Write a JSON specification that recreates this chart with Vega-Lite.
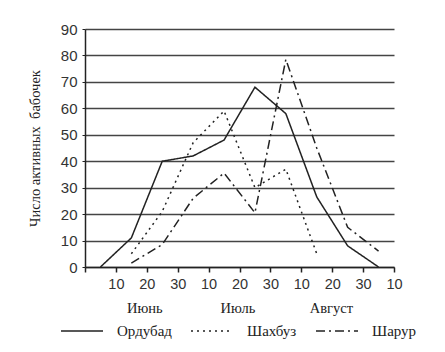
{
  "$schema": "https://vega.github.io/schema/vega-lite/v6.json",
  "width": 309,
  "height": 238,
  "autosize": {"type": "none"},
  "padding": {"left": 85, "top": 29, "right": 51, "bottom": 85},
  "background": "white",
  "config": {"view": {"stroke": null}},
  "data": {
    "values": [
      {"x": 0.5, "y": 0, "s": "Ордубад"},
      {"x": 1.5, "y": 11, "s": "Ордубад"},
      {"x": 2.5, "y": 40, "s": "Ордубад"},
      {"x": 3.5, "y": 42, "s": "Ордубад"},
      {"x": 4.5, "y": 48, "s": "Ордубад"},
      {"x": 5.5, "y": 68, "s": "Ордубад"},
      {"x": 6.5, "y": 58, "s": "Ордубад"},
      {"x": 7.5, "y": 26.5, "s": "Ордубад"},
      {"x": 8.5, "y": 8, "s": "Ордубад"},
      {"x": 9.5, "y": 0, "s": "Ордубад"},
      {"x": 1.5, "y": 5, "s": "Шахбуз"},
      {"x": 2.5, "y": 21, "s": "Шахбуз"},
      {"x": 3.5, "y": 47, "s": "Шахбуз"},
      {"x": 4.5, "y": 59, "s": "Шахбуз"},
      {"x": 5.5, "y": 30, "s": "Шахбуз"},
      {"x": 6.5, "y": 37, "s": "Шахбуз"},
      {"x": 7.5, "y": 5, "s": "Шахбуз"},
      {"x": 1.5, "y": 1.5, "s": "Шарур"},
      {"x": 2.5, "y": 8.5, "s": "Шарур"},
      {"x": 3.5, "y": 26, "s": "Шарур"},
      {"x": 4.5, "y": 35.5, "s": "Шарур"},
      {"x": 5.5, "y": 20.5, "s": "Шарур"},
      {"x": 6.5, "y": 78.5, "s": "Шарур"},
      {"x": 7.5, "y": 45, "s": "Шарур"},
      {"x": 8.5, "y": 15, "s": "Шарур"},
      {"x": 9.5, "y": 6, "s": "Шарур"}
    ]
  },
  "mark": {"type": "line", "strokeWidth": 1.5, "color": "#222"},
  "encoding": {
    "x": {
      "field": "x",
      "type": "quantitative",
      "scale": {"domain": [0, 10], "nice": false},
      "axis": {
        "values": [0, 1, 2, 3, 4, 5, 6, 7, 8, 9, 10],
        "labelExpr": "datum.value == 0 ? '' : ['10','20','30'][(datum.value - 1) % 3]",
        "grid": false,
        "tickSize": 5,
        "tickColor": "#222",
        "tickWidth": 1.5,
        "domainColor": "#222",
        "domainWidth": 1.5,
        "labelFont": "Liberation Sans",
        "labelFontSize": 14.5,
        "labelColor": "#333",
        "labelPadding": 5,
        "labelFlush": false,
        "title": "Июнь\u00a0\u00a0\u00a0\u00a0\u00a0\u00a0\u00a0\u00a0\u00a0\u00a0\u00a0\u00a0\u00a0\u00a0\u00a0\u00a0Июль\u00a0\u00a0\u00a0\u00a0\u00a0\u00a0\u00a0\u00a0\u00a0\u00a0\u00a0\u00a0\u00a0\u00a0\u00a0Август",
        "titleFont": "Liberation Serif, Times New Roman, DejaVu Serif, serif",
        "titleFontSize": 14.5,
        "titleFontWeight": "normal",
        "titleColor": "#222",
        "titlePadding": 11
      }
    },
    "y": {
      "field": "y",
      "type": "quantitative",
      "scale": {"domain": [0, 90], "nice": false},
      "axis": {
        "values": [0, 10, 20, 30, 40, 50, 60, 70, 80, 90],
        "grid": true,
        "gridColor": "#444",
        "gridWidth": 1.6,
        "tickSize": 3,
        "tickColor": "#222",
        "domainColor": "#222",
        "domainWidth": 1.5,
        "labelFont": "Liberation Sans",
        "labelFontSize": 15,
        "labelColor": "#333",
        "labelPadding": 5,
        "title": "Число активных\u00a0\u00a0бабочек",
        "titleFont": "Liberation Serif, Times New Roman, DejaVu Serif, serif",
        "titleFontSize": 14.5,
        "titleFontWeight": "normal",
        "titleColor": "#222",
        "titlePadding": 18
      }
    },
    "strokeDash": {
      "field": "s",
      "type": "nominal",
      "scale": {
        "domain": ["Ордубад", "Шахбуз", "Шарур"],
        "range": [[1, 0], [2, 4], [9, 4, 2, 4]]
      },
      "legend": {
        "orient": "none",
        "legendX": -25,
        "legendY": 280,
        "direction": "horizontal",
        "title": null,
        "symbolType": "stroke",
        "symbolSize": 1764,
        "symbolStrokeWidth": 1.5,
        "symbolStrokeColor": "#222",
        "labelFont": "Liberation Serif, Times New Roman, DejaVu Serif, serif",
        "labelFontSize": 15,
        "labelColor": "#222",
        "labelOffset": 13,
        "columnPadding": 16
      }
    }
  }
}
